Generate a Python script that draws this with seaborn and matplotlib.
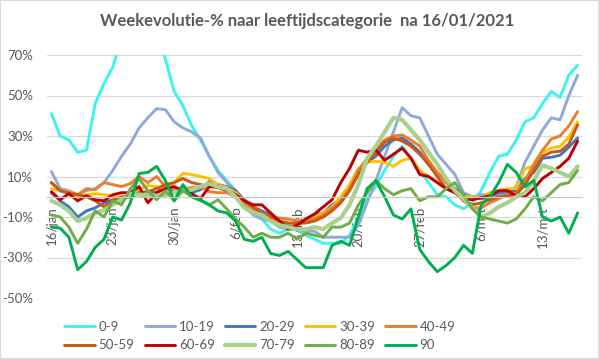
import matplotlib
matplotlib.use("Agg")
import matplotlib.pyplot as plt
from matplotlib.lines import Line2D
from matplotlib.patches import Rectangle
import numpy as np
import pandas as pd
import seaborn as sns

# ---------------- data ----------------
dates = pd.date_range("2021-01-16", "2021-03-17", freq="D")
tick_labels = ["16/jan", "23/jan", "30/jan", "6/feb", "13/feb", "20/feb",
               "27/feb", "6/mrt", "13/mrt"]
groups = ["0-9", "10-19", "20-29", "30-39", "40-49",
          "50-59", "60-69", "70-79", "80-89", "90"]

g0_9 = [41, 30, 28, 22, 23, 46, 56, 64, 78, 85,
        90, 88, 80, 68, 52, 45, 35, 28, 20, 13,
        8, 3, -3, -8, -11, -16, -18, -16, -16, -19,
        -21, -23, -23, -23, -19, -10, -1, 5, 13, 20,
        25, 19, 13, 7, 1, 0, -4, -6, -3, 3,
        12, 20, 21, 28, 37, 39, 46, 52, 49, 60, 65]
g10_19 = [12.5, 4, 3, 1, 3, 4, 7, 13, 20, 26,
          34, 39, 43.5, 43, 37, 34, 32, 29, 20, 12,
          7, 3, -4, -9, -11, -12, -15, -16, -16, -17,
          -17, -20, -20, -20, -20, -14, -3, 8, 20, 32,
          44, 40, 39, 30, 21, 16, 11, 2, 0, 1,
          1, 1, 1, 5, 17, 25, 33, 39, 38, 50, 60]
g20_29 = [2, -2, -5, -10, -7, -5.5, -3, -1.5, -1, 0,
          1.5, 2.5, 2, 5, 2, 2.5, 2, 3.5, 7.5, 6,
          5, 3, -1.5, -5, -7, -9, -12, -14, -14.5, -11,
          -9, -8, -4, -1, 5, 12, 17, 20, 25, 28,
          29, 26, 22, 16, 12, 8, 4, 1, 0, -1,
          0, 2, 2.5, 3, 9, 12, 19, 19.5, 20.5, 24.5, 29]
g30_39 = [4, 3, 2.5, 0.5, 1, 1.5, 1, 0.5, -1, 0.5,
          3.5, 5.5, 5, 4, 7, 11.5, 11, 10, 9, 6,
          4.5, 2, -2, -5, -8, -10, -12, -13, -14, -12,
          -10, -8, -5, 0, 6, 14, 17, 17.5, 17, 15,
          18, 19, 13, 10, 7, 4.5, 2, 0.5, 0, -0.5,
          2, 3, 4, 4, 14, 15, 22, 24, 25, 29.5, 37]
g40_49 = [7, 3, 1.5, 1, 4, 3.5, 7, 6, 5, 6.5,
          10, 7, 10, 5, 4, 4, 4.5, 5, 2.5, 2,
          2, 0, -3, -6, -8, -10, -10.5, -11, -12, -11.5,
          -11, -9, -5.5, -2, 4, 13, 19, 24, 28, 30,
          30.5, 28, 25, 18, 12, 7, 3, -2, -5.5, -5.5,
          -3, -1, 1, 1.5, 8, 16, 23, 28.5, 30, 35, 42]
g50_59 = [7, 3, 2, 1, 0, -2, -5, -2, 0, 0.5,
          2, 2.5, 4, 6, 7, 9, 7, 6, 5, 4.5,
          3, 1, -2, -5, -8, -10, -12, -13, -13, -13,
          -12, -10, -7, -3, 3, 11, 17, 22, 27, 29,
          27.5, 25, 21, 16, 10, 4, 2.5, -2, -4, -3,
          -1.5, 0, 0.5, 1, 6, 13, 20, 22, 22.5, 26, 35.5]
g60_69 = [2.5, -1.5, 1.5, -2, 0.5, -1.5, -2, 1, 2, 2,
          5, -3, 2, 4, 5, 3, 1.5, -1, 5, 5.5,
          3.5, 1, -2, -4, -4, -8, -12, -16, -14, -11,
          -8.5, -5, -1.5, 7, 14, 23, 22, 23, 18, 21,
          24, 19, 11, 10, 7, 4, 2, -1, -1.5, -0.5,
          0.5, 3, 3, 0.5, 0, 4, 9, 12, 15, 19, 27.5]
g70_79 = [-2, -4, -7, -12, -10.5, -8, -6.5, -4, -1.5, 1.5,
          1, 1, 0.5, 1, 2, 3, 3.5, 5, 6.5, 5,
          4, 0, -5.5, -8, -9, -12, -14, -15, -16, -16,
          -15, -16, -13, -10.5, -4, 6, 19, 25, 32, 39,
          38, 33, 28, 22, 16, 9, 3, -1, -5.5, -10,
          -8, -5, -3, 0, 2, 8, 15.5, 14, 12, 10, 15]
g80_89 = [-9, -10, -15, -23, -16, -7, -10, -2, -4, 4,
          9, 3, -1.5, 3, -2, 3, 0, -2, -4, -1.5,
          -6, -11, -15, -20, -18, -20, -20, -18, -21, -18,
          -19, -20, -15, -15, -13, -4, 2, 8, 4, 1,
          3, 4, -2, 0, 0, 4, 7, 1, -6, -10,
          -11, -12, -13, -11, -6, 0, -2, 2, 6, 7, 13]
g90 = [-15, -15.5, -20, -36, -32, -25, -21, -10, -11.5, -3,
       11.5, 12, 15, 8, -2, 6, 0, -1.5, -4, -7,
       -8, -12, -21, -22, -20, -28, -29, -27, -31, -35,
       -35, -35, -24, -22, -24, -10, 4, 8, 0, -9,
       -11, -6, -26, -32, -37, -34, -30, -24, -28, -4,
       0, 7, 16, 12, 5, 8, -10, -12, -10, -18, -8]

series = [g0_9, g10_19, g20_29, g30_39, g40_49,
          g50_59, g60_69, g70_79, g80_89, g90]

colors = ["#3CF4EE", "#8EA9DB", "#4472C4", "#FFC000", "#ED7D31",
          "#C55A11", "#C00000", "#A9D18E", "#70AD47", "#00B050"]
widths = [2.1, 2.1, 2.1, 2.1, 2.1, 2.1, 2.1, 3.0, 2.1, 2.1]

# ---------------- frame ----------------
day = np.arange(len(dates))
df = pd.concat([pd.DataFrame({"dag": day, "pct": vals, "groep": name})
                for name, vals in zip(groups, series)], ignore_index=True)

sns.set_theme(style="white")
plt.rcParams["font.family"] = ["Lato", "DejaVu Sans"]

W, H = 599, 359
fig = plt.figure(figsize=(W / 100, H / 100), dpi=100)
ax = fig.add_axes([47 / W, 1 - 298 / H, (582 - 47) / W, (298 - 55) / H])

palette = dict(zip(groups, colors))
sizes = dict(zip(groups, widths))
sns.lineplot(data=df, x="dag", y="pct", hue="groep", hue_order=groups,
             palette=palette, size="groep", size_order=groups, sizes=sizes,
             legend=False, estimator=None, sort=False, ax=ax)
for ln in ax.get_lines():
    ln.set_solid_joinstyle("round")
    ln.set_solid_capstyle("round")

txt = "#595959"
ax.set_xlim(-0.5, len(dates) - 0.5)
ax.set_ylim(-50, 70)
yt = [-50, -30, -10, 10, 30, 50, 70]
ax.set_yticks(yt)
ax.set_yticklabels([f"{v}%" for v in yt])
ax.yaxis.grid(True, color="#D9D9D9", lw=0.9)
ax.xaxis.grid(False)
ax.set_axisbelow(True)
ax.tick_params(axis="y", length=0, pad=10, labelsize=9.5, labelcolor=txt)

for s in ["left", "right", "top"]:
    ax.spines[s].set_visible(False)
ax.spines["bottom"].set_position(("data", 0))
ax.spines["bottom"].set_color("#C8C8C8")
ax.spines["bottom"].set_linewidth(0.9)

ax.set_xticks(np.arange(0, len(dates), 7))
ax.set_xticklabels(tick_labels, rotation=90, ha="center", va="top")
ax.set_xticks(np.arange(-0.5, len(dates), 7), minor=True)
ax.tick_params(axis="x", which="major", length=0, pad=7,
               labelsize=9.5, labelcolor=txt)
ax.tick_params(axis="x", which="minor", length=4, width=0.8,
               color="#BFBFBF", direction="out")
ax.set_xlabel("")
ax.set_ylabel("")

fig.text(0.513, 0.942, "Weekevolutie-% naar leeftijdscategorie  na 16/01/2021",
         ha="center", va="center", fontsize=12, fontweight="bold", color=txt)

# legend, filled row-wise like the original
order = [0, 5, 1, 6, 2, 7, 3, 8, 4, 9]
handles = [Line2D([0], [0], color=colors[i], lw=widths[i]) for i in order]
labels = [groups[i] for i in order]
fig.legend(handles, labels, ncol=5, loc="center", bbox_to_anchor=(0.434, 0.064),
           frameon=False, fontsize=9.5, handlelength=2.3, handletextpad=0.3,
           columnspacing=0.77, labelspacing=0.5, borderpad=0, labelcolor=txt)

fig.patches.append(Rectangle((0, 0), 1, 1, transform=fig.transFigure,
                             fill=False, edgecolor="#D9D9D9", lw=1.5))

fig.savefig("out.png", dpi=100)
